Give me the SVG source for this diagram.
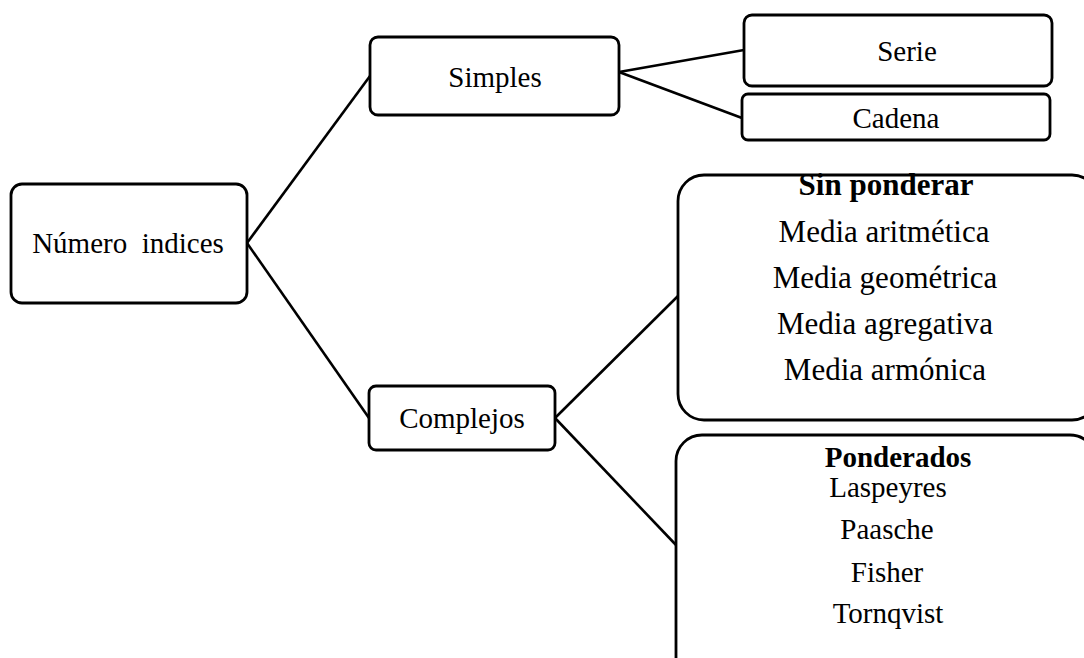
<svg xmlns="http://www.w3.org/2000/svg" width="1084" height="658" viewBox="0 0 1084 658">
<style>
.box{fill:#fff;stroke:#000;stroke-width:2.8}
.ln{stroke:#000;stroke-width:2.6;fill:none}
text{font-family:"Liberation Serif","Times New Roman",serif;font-size:29px;fill:#000;text-anchor:middle}
.b{font-weight:bold}
.big{font-size:31px}
</style>
<rect width="1084" height="658" fill="#fff"/>
<g id="connectors">
<line class="ln" x1="247" y1="243" x2="370" y2="76"/>
<line class="ln" x1="247" y1="243" x2="369" y2="418"/>
<line class="ln" x1="619" y1="72" x2="744" y2="50"/>
<line class="ln" x1="619" y1="72" x2="742" y2="118"/>
<line class="ln" x1="555" y1="418" x2="678" y2="296"/>
<line class="ln" x1="555" y1="418" x2="676" y2="545"/>
</g>
<g id="numero">
<rect class="box" x="11" y="184" width="236" height="119" rx="11"/>
<text x="128" y="253" xml:space="preserve">Número  indices</text>
</g>
<g id="simples">
<rect class="box" x="370" y="37" width="249" height="78" rx="8"/>
<text x="495" y="87">Simples</text>
</g>
<g id="serie">
<rect class="box" x="744" y="15" width="308" height="71" rx="8"/>
<text x="907" y="61">Serie</text>
</g>
<g id="cadena">
<rect class="box" x="742" y="94" width="308" height="46" rx="6"/>
<text x="896" y="128">Cadena</text>
</g>
<g id="complejos">
<rect class="box" x="369" y="386" width="186" height="64" rx="7"/>
<text x="462" y="428">Complejos</text>
</g>
<g id="sinponderar">
<rect class="box" x="678" y="175" width="420" height="245" rx="26"/>
<text class="b big" x="886" y="195">Sin ponderar</text>
<text class="big" x="884" y="242">Media aritmética</text>
<text class="big" x="885" y="288">Media geométrica</text>
<text class="big" x="885" y="334">Media agregativa</text>
<text class="big" x="885" y="380">Media armónica</text>
</g>
<g id="ponderados">
<rect class="box" x="676" y="435" width="420" height="250" rx="26"/>
<text class="b" x="898" y="467">Ponderados</text>
<text x="888" y="497">Laspeyres</text>
<text x="887" y="539">Paasche</text>
<text x="887" y="582">Fisher</text>
<text x="888" y="623">Tornqvist</text>
</g>
</svg>
